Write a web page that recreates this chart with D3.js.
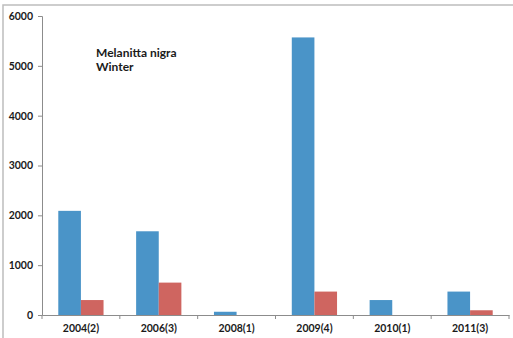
<!DOCTYPE html>
<html>
<head>
<meta charset="utf-8">
<script src="https://cdn.jsdelivr.net/npm/d3@7"></script>
<style>
  html, body { margin: 0; padding: 0; background: #fff; }
  svg { display: block; }
  text { font-family: Lato, "Open Sans", sans-serif; font-weight: bold; fill: #1a1a1a; }
</style>
</head>
<body>
<svg id="chart" width="513" height="338"></svg>
<script>
// Sample periods (number of surveys in brackets)
const categories = ["2004(2)", "2006(3)", "2008(1)", "2009(4)", "2010(1)", "2011(3)"];
// Two count series per period
const seriesA = [2090, 1680, 65, 5570, 300, 470];
const seriesB = [300, 650, 0, 470, 0, 95];
const yTicks = [0, 1000, 2000, 3000, 4000, 5000, 6000];
const titleLines = ["Melanitta nigra", "Winter"];

const colors = ["#4a94c8", "#cf6560"];

const svg = d3.select("#chart");
const W = 513, H = 338;
const m = { left: 42, right: 4, top: 16, bottom: 23 };

// outer frame
svg.append("rect")
  .attr("x", 3).attr("y", 5)
  .attr("width", W + 10).attr("height", H + 10)
  .attr("fill", "none").attr("stroke", "#bdbdbd").attr("stroke-width", 1.5);

const x = d3.scaleBand().domain(categories).range([m.left, W - m.right]).paddingInner(0).paddingOuter(0);
const inner = d3.scaleBand().domain([0, 1]).range([0, x.bandwidth()]).paddingOuter(0.72).paddingInner(0);
const y = d3.scaleLinear().domain([0, 6000]).range([H - m.bottom, m.top]);

const rows = categories.map((c, i) => ({ c, v: [seriesA[i], seriesB[i]] }));

const g = svg.append("g");
g.selectAll("g.grp").data(rows).join("g")
  .attr("class", "grp")
  .attr("transform", d => `translate(${x(d.c)},0)`)
  .selectAll("rect").data(d => d.v.map((v, k) => ({ v, k })))
  .join("rect")
  .attr("x", d => inner(d.k))
  .attr("width", inner.bandwidth())
  .attr("y", d => y(d.v))
  .attr("height", d => y(0) - y(d.v))
  .attr("fill", d => colors[d.k]);

// y axis
const yAxis = svg.append("g")
  .attr("transform", `translate(${m.left},0)`)
  .call(d3.axisLeft(y).tickValues(yTicks).tickFormat(d3.format("d")).tickSizeOuter(0).tickSize(4).tickPadding(5));
// x axis
const xAxis = svg.append("g")
  .attr("transform", `translate(0,${y(0)})`)
  .call(d3.axisBottom(x).tickSize(0).tickPadding(10));

// category boundary ticks
xAxis.selectAll("line.bound").data(d3.range(categories.length + 1)).join("line")
  .attr("class", "bound")
  .attr("x1", i => m.left + i * x.step()).attr("x2", i => m.left + i * x.step())
  .attr("y1", 0).attr("y2", 4);

[yAxis, xAxis].forEach(a => {
  a.select(".domain").attr("stroke", "#8c8c8c").attr("stroke-width", 1);
  a.selectAll("line").attr("stroke", "#8c8c8c");
  a.selectAll("text").attr("font-size", "10.5px").attr("font-family", "Lato, 'Open Sans', sans-serif").attr("font-weight", "bold").attr("fill", "#1a1a1a");
});

// annotation
svg.append("text")
  .attr("x", 96).attr("y", 57)
  .attr("font-size", "12px")
  .selectAll("tspan").data(titleLines).join("tspan")
  .attr("x", 96).attr("dy", (d, i) => i === 0 ? 0 : 13.5)
  .text(d => d);
</script>
</body>
</html>
